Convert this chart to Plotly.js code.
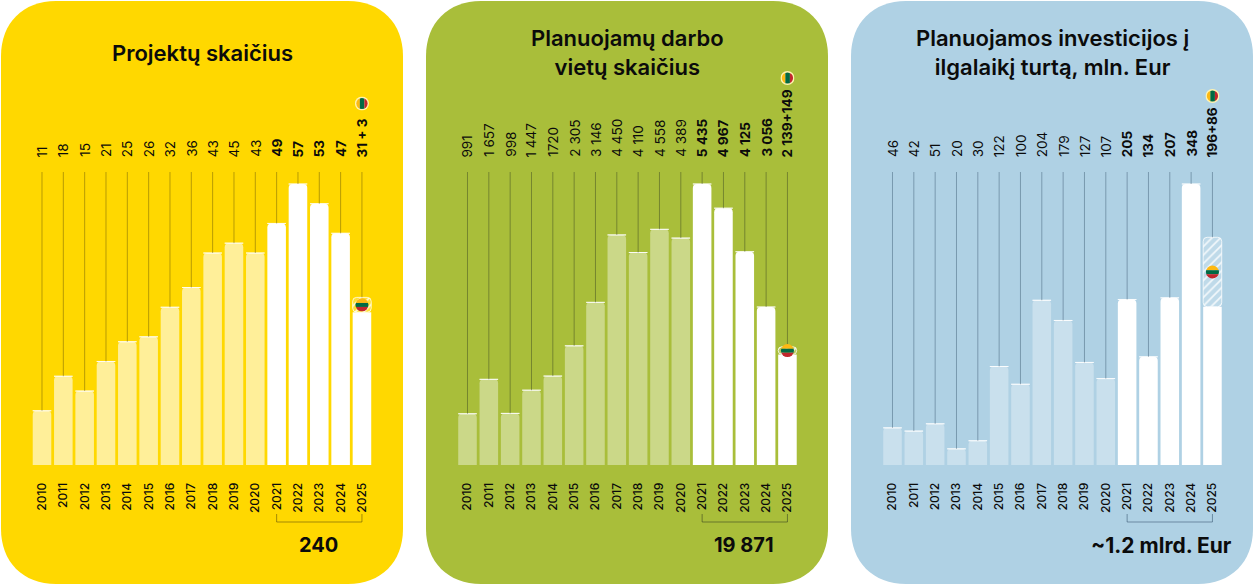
<!DOCTYPE html>
<html><head><meta charset="utf-8">
<script src="https://cdn.plot.ly/plotly-3.0.1.min.js"></script>
<style>html,body{margin:0;padding:0;background:#fff}#c{width:1255px;height:584px}</style></head>
<body><div id="c"></div>
<script>
const W=1255,H=584;
const years=[2010,2011,2012,2013,2014,2015,2016,2017,2018,2019,2020,2021,2022,2023,2024,2025];
const projectValues=[11,18,15,21,25,26,32,36,43,45,43,49,57,53,47,31];
const projectExtra=[0,0,0,0,0,0,0,0,0,0,0,0,0,0,0,3];
const projectLabels=["11","18","15","21","25","26","32","36","43","45","43","49","57","53","47","31 + 3"];
const jobValues=[991,1657,998,1447,1720,2305,3146,4450,4110,4558,4389,5435,4967,4125,3056,2139];
const jobExtra=[0,0,0,0,0,0,0,0,0,0,0,0,0,0,0,149];
const jobLabels=["991","1 657","998","1 447","1720","2 305","3 146","4 450","4 110","4 558","4 389","5 435","4 967","4 125","3 056","2 139+149"];
const investValues=[46,42,51,20,30,122,100,204,179,127,107,205,134,207,348,196];
const investExtra=[0,0,0,0,0,0,0,0,0,0,0,0,0,0,0,86];
const investLabels=["46","42","51","20","30","122","100","204","179","127","107","205","134","207","348","196+86"];
const panels=[
 {left:1,bg:"#FFD800",title:"Projektų skaičius",titleY:53,total:"240",totalX:319,totalSize:20,flagY:103.5,center:42,max:57,values:projectValues,extra:projectExtra,labels:projectLabels,soft:"rgba(255,255,255,0.6)",line:"rgba(90,75,10,0.55)"},
 {left:426,bg:"#A9BE3A",title:"Planuojamų darbo<br>vietų skaičius",titleY:52.5,total:"19 871",totalX:744,totalSize:20,flagY:78,center:467.5,max:5435,values:jobValues,extra:jobExtra,labels:jobLabels,soft:"rgba(255,255,255,0.4)",line:"rgba(40,50,30,0.5)"},
 {left:851,bg:"#AFD1E4",title:"Planuojamos investicijos į<br>ilgalaikį turtą, mln. Eur",titleY:52.5,total:"~1.2 mlrd. Eur",totalX:1161,totalSize:21,flagY:96,center:892.5,max:348,values:investValues,extra:investExtra,labels:investLabels,soft:"rgba(255,255,255,0.33)",line:"rgba(40,70,95,0.5)"}
];
const TEXT="#0b0b0b",FONT="Inter, 'Noto Sans', sans-serif";
const STEP=21.33,BASE=465,TOP=165,FULL=281,LINETOP=172;
const px=v=>v/W, py=v=>1-v/H;
const flagH='<svg xmlns="http://www.w3.org/2000/svg" width="40" height="40"><clipPath id="a"><circle cx="20" cy="20" r="18"/></clipPath><g clip-path="url(#a)"><rect width="40" height="15" fill="#FDB913"/><rect y="15" width="40" height="11" fill="#006A44"/><rect y="26" width="40" height="14" fill="#C1272D"/></g></svg>';
const flagV='<svg xmlns="http://www.w3.org/2000/svg" width="40" height="40"><circle cx="20" cy="20" r="20" fill="#fff3b0"/><clipPath id="a"><circle cx="20" cy="20" r="16"/></clipPath><g clip-path="url(#a)"><rect width="14" height="40" fill="#FDB913"/><rect x="14" width="13" height="40" fill="#006A44"/><rect x="27" width="13" height="40" fill="#C1272D"/></g></svg>';
const uri=s=>"data:image/svg+xml;base64,"+btoa(s);
const traces=[],shapes=[],annotations=[],images=[],layout={};
panels.forEach((p,i)=>{
  const sfx=i?String(i+1):"",xa="x"+sfx,ya="y"+sfx;
  const R=55,l=p.left,r=l+402,t=1,b=584;
  shapes.push({type:"path",xref:"paper",yref:"paper",layer:"below",line:{width:0},fillcolor:p.bg,
    path:`M ${px(l+R)} ${py(t)} L ${px(r-R)} ${py(t)} C ${px(r-R*0.4)} ${py(t)} ${px(r)} ${py(t+R*0.4)} ${px(r)} ${py(t+R)} L ${px(r)} ${py(b-R)} C ${px(r)} ${py(b-R*0.4)} ${px(r-R*0.4)} ${py(b)} ${px(r-R)} ${py(b)} L ${px(l+R)} ${py(b)} C ${px(l+R*0.4)} ${py(b)} ${px(l)} ${py(b-R*0.4)} ${px(l)} ${py(b-R)} L ${px(l)} ${py(t+R)} C ${px(l)} ${py(t+R*0.4)} ${px(l+R*0.4)} ${py(t)} ${px(l+R)} ${py(t)} Z`});
  const perPx=p.max/FULL, yTop=(BASE-TOP)*perPx, lineTop=(BASE-LINETOP)*perPx;
  const x0=p.center-0.7*STEP, x1=p.center+15.7*STEP;
  layout["xaxis"+sfx]={domain:[px(x0),px(x1)],range:[2009.3,2025.7],anchor:ya,tickmode:"array",tickvals:years,ticktext:years.map(String),tickangle:-90,
    ticks:"outside",ticklen:12,tickcolor:"rgba(0,0,0,0)",tickfont:{family:FONT,size:12,color:TEXT,weight:500},showgrid:false,zeroline:false,showline:false,fixedrange:true};
  layout["yaxis"+sfx]={domain:[py(BASE),py(TOP)],range:[0,yTop],anchor:xa,visible:false,fixedrange:true};
  const tops=p.values.map((v,k)=>v+p.extra[k]);
  const lx=[],ly=[];
  years.forEach((y,k)=>{lx.push(y,y,null);ly.push(tops[k],lineTop,null);});
  traces.push({type:"scatter",mode:"lines",x:lx,y:ly,xaxis:xa,yaxis:ya,line:{color:p.line,width:0.8},hoverinfo:"skip",showlegend:false});
  traces.push({type:"bar",x:years,y:p.values,xaxis:xa,yaxis:ya,width:0.87,showlegend:false,
    marker:{color:years.map(y=>y>=2021?"#ffffff":p.soft),line:{width:0},cornerradius:4}});
  traces.push({type:"bar",x:years,y:p.extra,base:p.values,xaxis:xa,yaxis:ya,width:0.87,showlegend:false,
    marker:{color:"rgba(255,255,255,0.2)",line:{color:"rgba(255,255,255,0.75)",width:1},cornerradius:4,
      pattern:{shape:"/",fgcolor:"rgba(255,255,255,0.8)",bgcolor:"rgba(255,255,255,0.2)",size:6,solidity:0.28}}});
  p.labels.forEach((s,k)=>annotations.push({xref:xa,yref:"paper",x:years[k],y:py(158),yanchor:"bottom",xanchor:"center",textangle:-90,showarrow:false,
    text:years[k]>=2021?`<b>${s}</b>`:s,font:{family:FONT,size:13.5,color:TEXT},borderpad:0}));
  annotations.push({xref:"paper",yref:"paper",x:px(l+201),y:py(p.titleY),xanchor:"center",yanchor:"middle",showarrow:false,align:"center",
    text:p.title,font:{family:FONT,size:22,color:TEXT,weight:600}});
  annotations.push({xref:"paper",yref:"paper",x:px(p.totalX),y:py(545),xanchor:"center",yanchor:"middle",showarrow:false,
    text:p.total,font:{family:FONT,size:p.totalSize,color:TEXT,weight:700}});
  shapes.push({type:"path",xref:"paper",yref:"paper",line:{color:p.line,width:1},
    path:`M ${px(p.center+11*STEP)} ${py(514)} L ${px(p.center+11*STEP)} ${py(522)} L ${px(p.center+15*STEP)} ${py(522)} L ${px(p.center+15*STEP)} ${py(514)}`});
  images.push({source:uri(flagH),xref:xa,yref:ya,x:2025,y:p.values[15]+p.extra[15]/2,sizex:0.68,sizey:14.5*perPx,xanchor:"center",yanchor:"middle",sizing:"contain",layer:"above"});
  images.push({source:uri(flagV),xref:xa,yref:"paper",x:2025,y:py(p.flagY),sizex:0.66,sizey:14/H,xanchor:"center",yanchor:"middle",sizing:"contain",layer:"above"});
});
Object.assign(layout,{width:W,height:H,margin:{l:0,r:0,t:0,b:0},paper_bgcolor:"#ffffff",plot_bgcolor:"rgba(0,0,0,0)",barmode:"overlay",barcornerradius:4,showlegend:false,shapes,annotations,images});
Plotly.newPlot("c",traces,layout,{displayModeBar:false,staticPlot:true});
</script></body></html>
